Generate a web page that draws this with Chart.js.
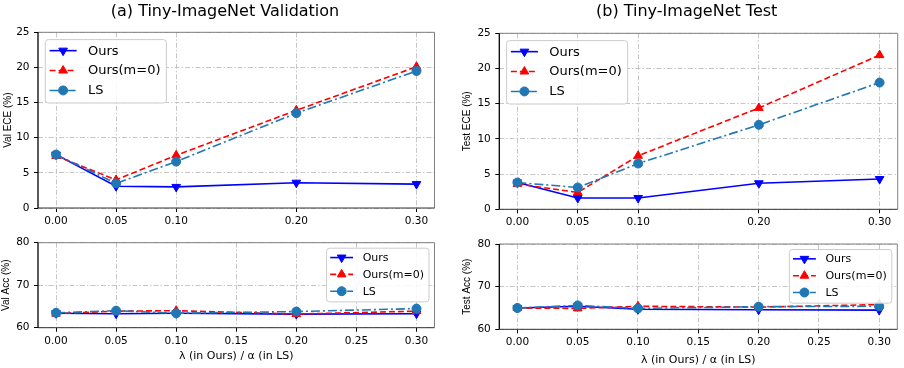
<!DOCTYPE html>
<html><head><meta charset="utf-8">
<script src="https://cdn.jsdelivr.net/npm/chart.js@4"></script>
<style>
html,body{margin:0;padding:0;background:#fff;width:904px;height:368px;overflow:hidden;position:relative;}
canvas{position:absolute;}
</style></head><body>
<canvas id="c1" width="450" height="230" style="left:0px;top:0px"></canvas>
<canvas id="c2" width="454" height="230" style="left:450px;top:0px"></canvas>
<canvas id="c3" width="450" height="138" style="left:0px;top:230px"></canvas>
<canvas id="c4" width="454" height="138" style="left:450px;top:230px"></canvas>
<script>
// ---- data ----
const xValues = [0.00, 0.05, 0.10, 0.20, 0.30];
const seriesNames = ['Ours', 'Ours(m=0)', 'LS'];

const valEceOurs   = [7.6, 3.1, 3.0, 3.6, 3.4];
const valEceOursM0 = [7.4, 4.0, 7.5, 13.9, 20.1];
const valEceLS     = [7.6, 3.5, 6.6, 13.5, 19.5];

const testEceOurs   = [3.8, 1.6, 1.6, 3.7, 4.3];
const testEceOursM0 = [3.6, 2.4, 7.6, 14.4, 21.9];
const testEceLS     = [3.8, 3.1, 6.5, 12.0, 18.0];

const valAccOurs   = [63.4, 63.3, 63.4, 63.2, 63.3];
const valAccOursM0 = [63.3, 63.9, 64.0, 63.2, 63.9];
const valAccLS     = [63.5, 64.0, 63.4, 63.8, 64.5];

const testAccOurs   = [65.0, 65.4, 64.7, 64.6, 64.5];
const testAccOursM0 = [65.0, 64.9, 65.4, 65.2, 65.8];
const testAccLS     = [65.0, 65.6, 64.9, 65.3, 65.4];

const xTicksTop    = [0.00, 0.05, 0.10, 0.20, 0.30];
const xTicksBottom = [0.00, 0.05, 0.10, 0.15, 0.20, 0.25, 0.30];
const eceTicks = [0, 5, 10, 15, 20, 25];
const accTicks = [60, 70, 80];

const titleVal = '(a) Tiny-ImageNet Validation';
const titleTest = '(b) Tiny-ImageNet Test';
const xAxisTitle = 'λ (in Ours) / α (in LS)';

// ---- styling ----
Chart.defaults.font.family = '"DejaVu Sans", sans-serif';
Chart.defaults.color = '#000';
const gridDash = [5, 2, 1.5, 2];

function drawMarker(ctx, style, x, y, r, rot) {
  ctx.beginPath();
  if (style === 'circle') {
    ctx.arc(x, y, r, 0, Math.PI * 2);
  } else {
    let a = (rot || 0) * Math.PI / 180;
    for (let k = 0; k < 3; k++) {
      const px = x + Math.sin(a) * r, py = y - Math.cos(a) * r;
      if (k === 0) ctx.moveTo(px, py); else ctx.lineTo(px, py);
      a += 2 * Math.PI / 3;
    }
    ctx.closePath();
  }
  ctx.fill();
  ctx.stroke();
}

const framePlugin = {
  id: 'frame',
  afterDatasetsDraw(chart) {
    const {ctx, chartArea: a} = chart;
    ctx.save();
    ctx.lineWidth = 1;
    ctx.strokeStyle = '#808080';
    ctx.beginPath();
    ctx.moveTo(a.left, a.top); ctx.lineTo(a.right, a.top); ctx.lineTo(a.right, a.bottom);
    ctx.stroke();
    ctx.strokeStyle = '#333';
    ctx.beginPath();
    ctx.moveTo(a.left, a.bottom); ctx.lineTo(a.right, a.bottom);
    ctx.stroke();
    ctx.lineWidth = 1.3;
    ctx.strokeStyle = '#000';
    ctx.beginPath();
    ctx.moveTo(a.left, a.top); ctx.lineTo(a.left, a.bottom);
    ctx.stroke();
    ctx.restore();
  }
};

const legendPlugin = {
  id: 'mplLegend',
  afterDatasetsDraw(chart, args, opts) {
    const {ctx, chartArea: a} = chart;
    const fs = opts.fontSize;
    const ds = chart.data.datasets;
    ctx.save();
    ctx.font = fs + 'px "DejaVu Sans"';
    let maxW = 0;
    ds.forEach(d => { maxW = Math.max(maxW, ctx.measureText(d.label).width); });
    const textX = 3.28 * fs;
    const w = textX + maxW + 0.45 * fs;
    const h = 4.88 * fs;
    const bx = opts.corner === 'tr' ? a.right - opts.offset - w : a.left + opts.offset;
    const by = a.top + opts.offset;
    ctx.beginPath();
    ctx.roundRect(bx, by, w, h, 3);
    ctx.fillStyle = 'rgba(255,255,255,0.85)';
    ctx.fill();
    ctx.lineWidth = 1;
    ctx.strokeStyle = '#cccccc';
    ctx.stroke();
    ds.forEach((d, i) => {
      const y = by + 0.85 * fs + i * 1.53 * fs;
      const x0 = bx + 0.33 * fs, x1 = x0 + 2.08 * fs;
      ctx.strokeStyle = d.borderColor;
      ctx.lineWidth = d.borderWidth;
      ctx.setLineDash(d.borderDash || []);
      ctx.beginPath(); ctx.moveTo(x0, y); ctx.lineTo(x1, y); ctx.stroke();
      ctx.setLineDash([]);
      ctx.fillStyle = d.backgroundColor;
      ctx.lineWidth = 1;
      drawMarker(ctx, d.pointStyle, (x0 + x1) / 2, y, d.pointRadius, d.pointRotation);
      ctx.fillStyle = '#000';
      ctx.textBaseline = 'middle';
      ctx.textAlign = 'left';
      ctx.fillText(d.label, bx + textX, y + 0.5);
    });
    ctx.restore();
  }
};

function makeDatasets(ours, oursM0, ls) {
  const pts = arr => xValues.map((x, i) => ({x: x, y: arr[i]}));
  return [
    {label: seriesNames[0], data: pts(ours), borderColor: '#0000ff', backgroundColor: '#0000ff',
     borderWidth: 1.6, pointStyle: 'triangle', pointRotation: 180, pointRadius: 5, pointBorderWidth: 1, order: 3},
    {label: seriesNames[1], data: pts(oursM0), borderColor: '#ff0000', backgroundColor: '#ff0000',
     borderWidth: 1.6, borderDash: [6, 3], pointStyle: 'triangle', pointRotation: 0, pointRadius: 5, pointBorderWidth: 1, order: 2},
    {label: seriesNames[2], data: pts(ls), borderColor: '#1f77b4', backgroundColor: '#1f77b4',
     borderWidth: 1.6, borderDash: [9, 3, 2, 3], pointStyle: 'circle', pointRadius: 4.5, pointBorderWidth: 1, order: 1}
  ];
}

function makeChart(id, g) {
  return new Chart(document.getElementById(id), {
    type: 'line',
    data: {datasets: g.datasets},
    plugins: [framePlugin, legendPlugin],
    options: {
      responsive: false, animation: false, events: [],
      layout: {padding: g.pad},
      elements: {line: {tension: 0}},
      plugins: {
        legend: {display: false},
        tooltip: {enabled: false},
        title: g.title ? {display: true, text: g.title,
          font: {size: 16, weight: 'normal', lineHeight: 1.2}, color: '#000',
          padding: {top: 2.4, bottom: g.titleGap}} : {display: false},
        mplLegend: {corner: g.legendCorner, fontSize: g.legendFs, offset: g.legendOff}
      },
      scales: {
        x: {
          type: 'linear', min: -0.015, max: 0.315,
          afterBuildTicks: s => { s.ticks = g.xTicks.map(v => ({value: v})); },
          afterFit: s => { s.height = g.xH; },
          grid: {color: '#b8b8b8', lineWidth: 0.8, tickColor: '#000', tickLength: 4, tickWidth: 1},
          border: {display: false, dash: gridDash},
          ticks: {padding: 3, font: {size: 10.5}, color: '#000', maxRotation: 0, autoSkip: false,
                  callback: v => Number(v).toFixed(2)},
          title: g.xTitle ? {display: true, text: g.xTitle, font: {size: 11}, color: '#000',
                  padding: {top: 0, bottom: g.xTitlePadB}} : {display: false}
        },
        y: {
          type: 'linear', min: g.yMin, max: g.yMax,
          afterBuildTicks: s => { s.ticks = g.yTicks.map(v => ({value: v})); },
          afterFit: s => { s.width = g.yW; },
          grid: {color: '#b8b8b8', lineWidth: 0.8, tickColor: '#000', tickLength: 4, tickWidth: 1},
          border: {display: false, dash: gridDash},
          ticks: {padding: 4.5, font: {size: 10.5}, color: '#000', callback: v => String(v)},
          title: {display: true, text: g.yTitle, font: {family: '"Liberation Sans", Arial, sans-serif', size: 10},
                  color: '#000', padding: {top: g.yTitlePadT, bottom: 0}}
        }
      }
    }
  });
}

makeChart('c1', {
  datasets: makeDatasets(valEceOurs, valEceOursM0, valEceLS),
  pad: {left: 15.5, right: 15.5, top: 0, bottom: 0},
  title: titleVal, titleGap: 10.7,
  xTicks: xTicksTop, xH: 22, xTitle: null,
  yMin: 0, yMax: 25, yTicks: eceTicks, yW: 22.5, yTitle: 'Val ECE (%)', yTitlePadT: -13.5,
  legendCorner: 'tl', legendFs: 13, legendOff: 7.3
});
makeChart('c2', {
  datasets: makeDatasets(testEceOurs, testEceOursM0, testEceLS),
  pad: {left: 25.7, right: 6.3, top: 0, bottom: 0},
  title: titleTest, titleGap: 11.7,
  xTicks: xTicksTop, xH: 20.7, xTitle: null,
  yMin: 0, yMax: 25, yTicks: eceTicks, yW: 23.6, yTitle: 'Test ECE (%)', yTitlePadT: -14.2,
  legendCorner: 'tl', legendFs: 13, legendOff: 7.3
});
makeChart('c3', {
  datasets: makeDatasets(valAccOurs, valAccOursM0, valAccLS),
  pad: {left: 0, right: 15.5, top: 12.7, bottom: 0},
  title: null,
  xTicks: xTicksBottom, xH: 40.3, xTitle: xAxisTitle, xTitlePadB: 5.7,
  yMin: 60, yMax: 80, yTicks: accTicks, yW: 38, yTitle: 'Val Acc (%)', yTitlePadT: 0,
  legendCorner: 'tr', legendFs: 11, legendOff: 5.5
});
makeChart('c4', {
  datasets: makeDatasets(testAccOurs, testAccOursM0, testAccLS),
  pad: {left: 0, right: 6.7, top: 14, bottom: 0},
  title: null,
  xTicks: xTicksBottom, xH: 38.7, xTitle: xAxisTitle, xTitlePadB: 1.4,
  yMin: 60, yMax: 80, yTicks: accTicks, yW: 49.3, yTitle: 'Test Acc (%)', yTitlePadT: 11.5,
  legendCorner: 'tr', legendFs: 11, legendOff: 5.5
});
</script>
</body></html>
